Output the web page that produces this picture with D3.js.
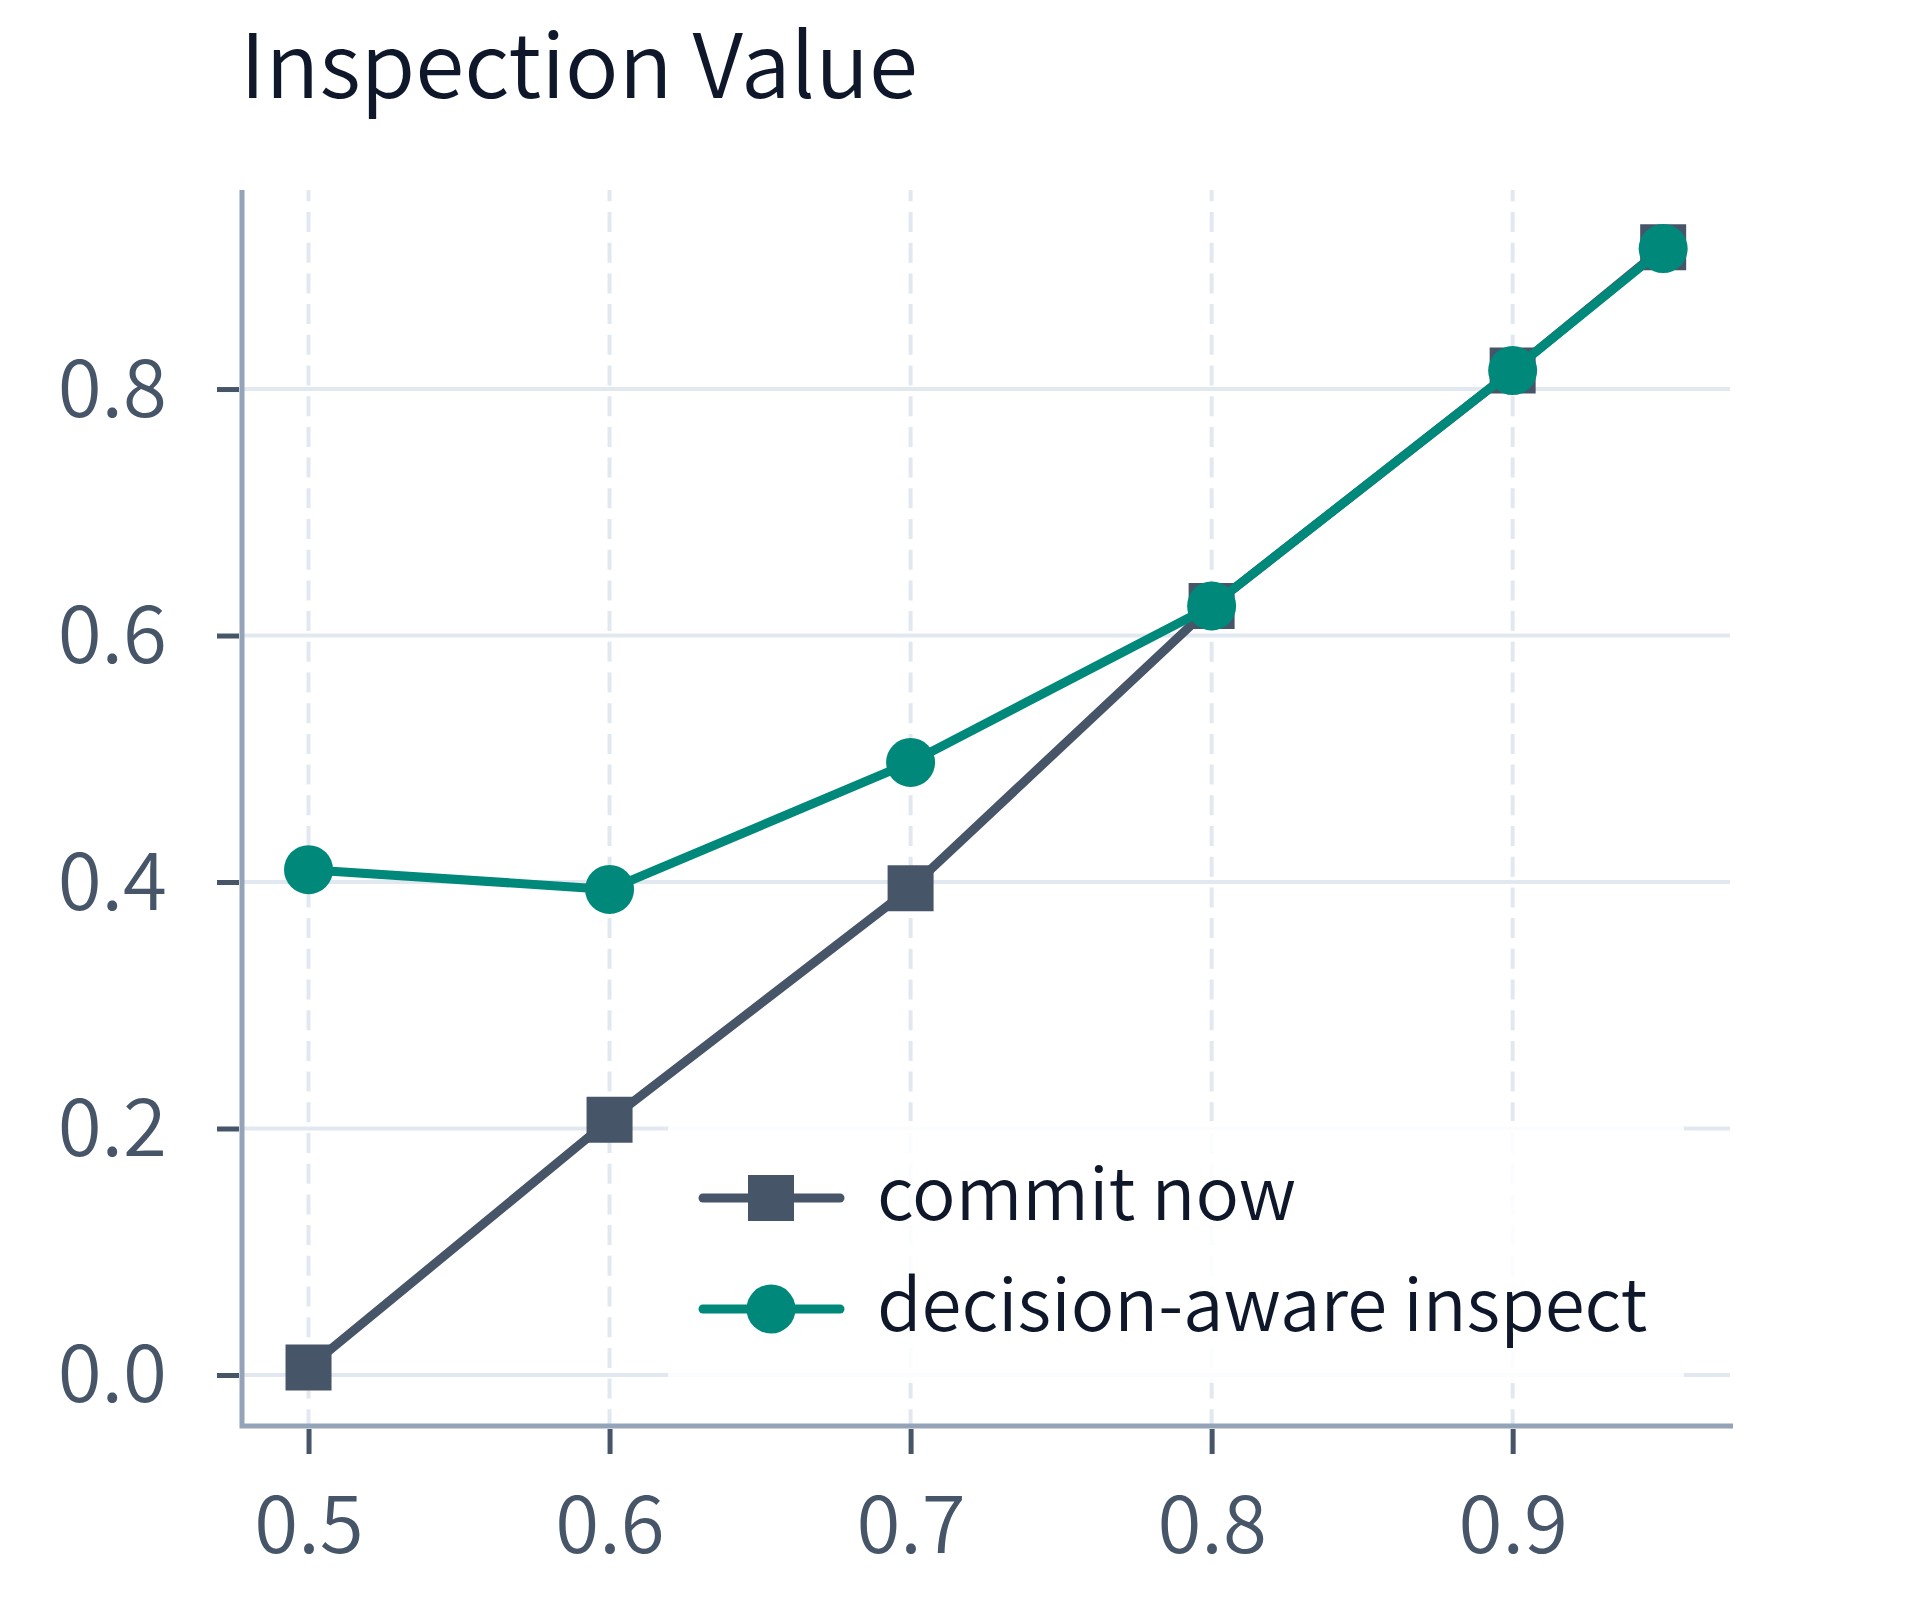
<!DOCTYPE html>
<html>
<head>
<meta charset="utf-8">
<script src="https://cdn.jsdelivr.net/npm/d3@7"></script>
<style>
  body { margin: 0; background: #ffffff; }
  text { font-family: "Noto Sans CJK KR", "Noto Sans", sans-serif; font-weight: 350; }
</style>
</head>
<body>
<div id="chart"></div>
<script>
// chart data
const title = 'Inspection Value';
const thresholds = [0.5, 0.6, 0.7, 0.8, 0.9, 0.95];
const commitNow = [0.006, 0.207, 0.395, 0.624, 0.815, 0.915];
const decisionAware = [0.41, 0.394, 0.497, 0.624, 0.815, 0.914];
const seriesNames = ['commit now', 'decision-aware inspect'];
const xTicks = [0.5, 0.6, 0.7, 0.8, 0.9];
const yTicks = [0.0, 0.2, 0.4, 0.6, 0.8];

const W = 1920, H = 1600;
const plot = { left: 242, right: 1730, top: 190, bottom: 1426 };

const slate = '#475569';
const teal = '#00897b';
const grid = '#e2e8f0';
const spine = '#94a3b8';
const ink = '#0f172a';
const fontStack = '"Noto Sans CJK KR", "Noto Sans", sans-serif';

const svg = d3.select('#chart')
    .append('svg')
    .attr('width', W)
    .attr('height', H);

const x = d3.scaleLinear()
    .domain([0.4779, 0.9722])
    .range([plot.left, plot.right]);

const y = d3.scaleLinear()
    .domain([-0.0414, 0.9615])
    .range([plot.bottom, plot.top]);

// title
svg.append('text')
    .attr('x', 240)
    .attr('y', 98)
    .attr('fill', ink)
    .attr('font-size', 89)
    .text(title);

// horizontal gridlines
svg.append('g')
    .selectAll('line')
    .data(yTicks)
    .enter()
    .append('line')
    .attr('x1', plot.left)
    .attr('x2', plot.right)
    .attr('y1', (d) => y(d))
    .attr('y2', (d) => y(d))
    .attr('stroke', grid)
    .attr('stroke-width', 4);

// vertical dashed gridlines
svg.append('g')
    .selectAll('line')
    .data(xTicks)
    .enter()
    .append('line')
    .attr('x1', (d) => x(d))
    .attr('x2', (d) => x(d))
    .attr('y1', plot.top)
    .attr('y2', plot.bottom)
    .attr('stroke', grid)
    .attr('stroke-width', 4)
    .attr('stroke-dasharray', '20,10.7')
    .attr('stroke-dashoffset', 8.7);

// axes
const yAxis = d3.axisLeft(y).tickValues(yTicks).tickSize(22).tickFormat(d3.format('.1f'));
const xAxis = d3.axisBottom(x).tickValues(xTicks).tickSize(25).tickFormat(d3.format('.1f'));

const gy = svg.append('g')
    .attr('transform', 'translate(239,0)')
    .call(yAxis);
gy.select('.domain').remove();
gy.selectAll('.tick line').attr('stroke', slate).attr('stroke-width', 5);
gy.selectAll('.tick text')
    .attr('x', -72)
    .attr('dy', null)
    .attr('y', 27)
    .attr('fill', slate)
    .attr('font-size', 80)
    .attr('font-family', fontStack)
    .attr('font-weight', 350);

const gx = svg.append('g')
    .attr('transform', `translate(0,${plot.bottom + 3})`)
    .call(xAxis);
gx.select('.domain').remove();
gx.selectAll('.tick line').attr('stroke', slate).attr('stroke-width', 5);
gx.selectAll('.tick text')
    .attr('dy', null)
    .attr('y', 124)
    .attr('fill', slate)
    .attr('font-size', 80)
    .attr('font-family', fontStack)
    .attr('font-weight', 350);

// spines
svg.append('path')
    .attr('d', `M${plot.left},${plot.top}V${plot.bottom}H${plot.right + 3}`)
    .attr('fill', 'none')
    .attr('stroke', spine)
    .attr('stroke-width', 5);

// series lines and markers
const series = [
    { name: seriesNames[0], values: commitNow, color: slate, symbol: d3.symbolSquare, size: 46 * 46 },
    { name: seriesNames[1], values: decisionAware, color: teal, symbol: d3.symbolCircle, size: Math.PI * 24.5 * 24.5 }
];

const line = d3.line()
    .x((_, i) => x(thresholds[i]))
    .y((d) => y(d));

series.forEach((s) => {
    svg.append('path')
        .datum(s.values)
        .attr('fill', 'none')
        .attr('stroke', s.color)
        .attr('stroke-width', 9)
        .attr('stroke-linejoin', 'round')
        .attr('d', line);

    svg.append('g')
        .selectAll('path')
        .data(s.values)
        .enter()
        .append('path')
        .attr('transform', (d, i) => `translate(${x(thresholds[i])},${y(d)})`)
        .attr('d', d3.symbol().type(s.symbol).size(s.size))
        .attr('fill', s.color);
});

// legend
const legend = svg.append('g');
legend.append('rect')
    .attr('x', 668)
    .attr('y', 1121)
    .attr('width', 1016)
    .attr('height', 262)
    .attr('rx', 8)
    .attr('fill', '#ffffff')
    .attr('fill-opacity', 0.85);

series.forEach((s, i) => {
    const ly = 1198 + i * 111;
    legend.append('line')
        .attr('x1', 703)
        .attr('x2', 840)
        .attr('y1', ly)
        .attr('y2', ly)
        .attr('stroke', s.color)
        .attr('stroke-width', 9)
        .attr('stroke-linecap', 'round');
    legend.append('path')
        .attr('transform', `translate(771,${ly})`)
        .attr('d', d3.symbol().type(s.symbol).size(s.size))
        .attr('fill', s.color);
    legend.append('text')
        .attr('x', 877)
        .attr('y', ly + 22)
        .attr('fill', ink)
        .attr('font-size', 72.5)
        .text(s.name);
});
</script>
</body>
</html>
